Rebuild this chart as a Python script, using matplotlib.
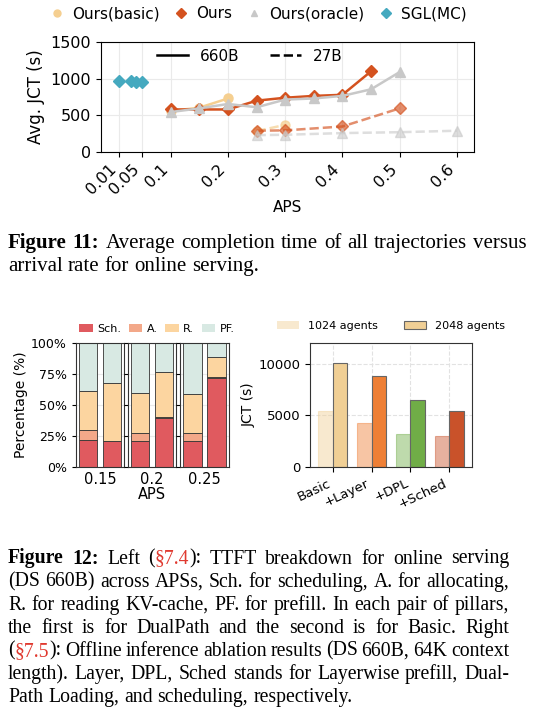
import matplotlib
matplotlib.use("Agg")
import matplotlib.pyplot as plt
from matplotlib.lines import Line2D
from matplotlib.patches import Patch
import numpy as np

W, H = 533, 720

# ---- Figure 11 data (avg JCT vs APS) ----
aps_660_basic = [0.1, 0.15, 0.2]
jct_660_basic = [560, 605, 730]
aps_660_ours = [0.1, 0.15, 0.2, 0.25, 0.3, 0.35, 0.4, 0.45]
jct_660_ours = [580, 580, 580, 700, 740, 765, 780, 1100]
aps_660_oracle = [0.1, 0.15, 0.2, 0.25, 0.3, 0.35, 0.4, 0.45, 0.5]
jct_660_oracle = [545, 595, 655, 610, 715, 730, 765, 855, 1090]

aps_27_basic = [0.25, 0.3]
jct_27_basic = [285, 370]
aps_27_ours = [0.25, 0.3, 0.4, 0.5]
jct_27_ours = [290, 295, 348, 595]
aps_27_oracle = [0.25, 0.3, 0.4, 0.5, 0.6]
jct_27_oracle = [230, 235, 258, 270, 290]

aps_sgl = [0.01, 0.03, 0.04, 0.05]
jct_sgl = [975, 962, 958, 958]

aps_ticks = [0.01, 0.05, 0.1, 0.2, 0.3, 0.4, 0.5, 0.6]

# ---- Figure 12 left data (TTFT breakdown, % ; DualPath, Basic) ----
bd_aps = ["0.15", "0.2", "0.25"]
bd_sch = [[22.0, 20.7], [21.2, 39.8], [21.2, 72.0]]
bd_alloc = [[8.0, 0.5], [6.5, 0.5], [6.2, 0.6]]
bd_read = [[31.0, 46.8], [32.3, 36.3], [31.7, 16.4]]

# ---- Figure 12 right data (ablation) ----
ablation = ["Basic", "+Layer", "+DPL", "+Sched"]
jct_1024 = [5450, 4270, 3190, 2960]
jct_2048 = [10100, 8800, 6530, 5440]

c_basic = "#F5CF90"
c_ours = "#D4521F"
c_oracle = "#C8C8C8"
c_sgl = "#45A9BF"
bd_colors = ["#E05A5F", "#F3A889", "#FCD5A0", "#D8E9E3"]
abl_colors = ["#F0CF95", "#EE7F35", "#70AD47", "#C9522A"]


def box(l, t, r, b):
    return [l / W, 1 - b / H, (r - l) / W, (b - t) / H]


fig = plt.figure(figsize=(W / 100, H / 100), dpi=100)

# ================= Figure 11 =================
ax = fig.add_axes(box(101, 42, 474, 152))
ax.grid(True, color="#EAEAEA", lw=0.8)
ax.set_axisbelow(True)
ms = 6.5
ax.plot(aps_660_basic, jct_660_basic, "-o", color=c_basic, ms=ms, lw=1.8)
ax.plot(aps_660_ours, jct_660_ours, "-D", color=c_ours, ms=ms, lw=1.8)
ax.plot(aps_660_oracle, jct_660_oracle, "-^", color=c_oracle, ms=ms, lw=1.8)
ax.plot(aps_27_basic, jct_27_basic, "--o", color=c_basic, ms=ms, lw=1.8, alpha=0.7)
ax.plot(aps_27_ours, jct_27_ours, "--D", color=c_ours, ms=ms, lw=1.8, alpha=0.65)
ax.plot(aps_27_oracle, jct_27_oracle, "--^", color=c_oracle, ms=ms, lw=1.8, alpha=0.6)
ax.plot(aps_sgl, jct_sgl, "D", color=c_sgl, ms=ms)
ax.set_xlim(-0.022, 0.63)
ax.set_ylim(0, 1500)
ax.set_yticks([0, 500, 1000, 1500])
ax.set_xticks(aps_ticks)
ax.set_xticklabels([str(t) for t in aps_ticks], rotation=45, ha="right")
ax.tick_params(labelsize=11.5)
ax.set_xlabel("APS", fontsize=11, labelpad=2)
ax.set_ylabel("Avg. JCT (s)", fontsize=12)

style_handles = [Line2D([], [], color="black", lw=1.8, ls="-"),
                 Line2D([], [], color="black", lw=1.8, ls="--")]
ax.legend(style_handles, ["660B", "27B"], loc="center", bbox_to_anchor=(0.40, 0.87),
          ncol=2, frameon=False, fontsize=11, handlelength=2.0,
          handletextpad=0.8, columnspacing=2.0)

top_handles = [Line2D([], [], color=c_basic, marker="o", ls="none", ms=5),
               Line2D([], [], color=c_ours, marker="D", ls="none", ms=5),
               Line2D([], [], color=c_oracle, marker="^", ls="none", ms=5),
               Line2D([], [], color=c_sgl, marker="D", ls="none", ms=5)]
fig.legend(top_handles, ["Ours(basic)", "Ours", "Ours(oracle)", "SGL(MC)"],
           loc="center", bbox_to_anchor=(258 / W, 1 - 14 / H), ncol=4,
           frameon=False, fontsize=11, handlelength=1.0, handletextpad=0.5,
           columnspacing=0.9)

# ================= Figure 12 left =================
panels = [box(76, 343, 124, 467), box(128, 343, 176, 467), box(180, 343, 229, 467)]
for i, pos in enumerate(panels):
    pax = fig.add_axes(pos)
    x = np.arange(2)
    sch = np.array(bd_sch[i])
    alloc = np.array(bd_alloc[i])
    read = np.array(bd_read[i])
    pf = 100 - sch - alloc - read
    bottom = np.zeros(2)
    for vals, col in zip([sch, alloc, read, pf], bd_colors):
        pax.bar(x, vals, 0.78, bottom=bottom, color=col, edgecolor="#333333", lw=0.6)
        bottom = bottom + vals
    pax.set_xlim(-0.5, 1.5)
    pax.set_ylim(0, 100)
    pax.set_yticks([0, 25, 50, 75, 100])
    pax.grid(True, axis="y", color="#EAEAEA", lw=0.8)
    pax.set_axisbelow(True)
    pax.set_xticks([0.5])
    pax.set_xticklabels([bd_aps[i]], fontsize=10.5)
    pax.tick_params(axis="x", length=0)
    pax.tick_params(axis="y", labelsize=9, length=3)
    if i == 0:
        pax.set_yticklabels(["0%", "25%", "50%", "75%", "100%"])
        pax.set_ylabel("Percentage (%)", fontsize=10, labelpad=2)
    else:
        pax.set_yticklabels([])
    if i == 1:
        pax.set_xlabel("APS", fontsize=10.5, labelpad=0)
    for s in pax.spines.values():
        s.set_color("#333333")
        s.set_linewidth(0.8)

bd_handles = [Patch(facecolor=c, edgecolor="none") for c in bd_colors]
fig.legend(bd_handles, ["Sch.", "A.", "R.", "PF."], loc="center",
           bbox_to_anchor=(157 / W, 1 - 329 / H), ncol=4, frameon=False,
           fontsize=8, handlelength=1.2, handleheight=0.8, handletextpad=0.4,
           columnspacing=0.7)

# ================= Figure 12 right =================
bx = fig.add_axes(box(310, 343, 472, 467))
xi = np.arange(len(ablation))
bw = 0.37
for j in range(len(ablation)):
    bx.bar(xi[j] - bw / 2, jct_1024[j], bw, color=abl_colors[j], alpha=0.45,
           edgecolor=abl_colors[j], lw=0.8)
    bx.bar(xi[j] + bw / 2, jct_2048[j], bw, color=abl_colors[j],
           edgecolor="#666666", lw=0.8)
bx.set_xlim(-0.58, 3.58)
bx.set_ylim(0, 12000)
bx.set_yticks([0, 5000, 10000])
bx.set_xticks(xi)
bx.set_xticklabels(ablation, rotation=25, ha="right", fontsize=9.5)
bx.tick_params(axis="y", labelsize=9.5)
bx.grid(True, ls="--", color="#E2E2E2", lw=0.8)
bx.set_axisbelow(True)
bx.set_ylabel("JCT (s)", fontsize=10, labelpad=2)
for s in bx.spines.values():
    s.set_color("#333333")
    s.set_linewidth(0.8)

abl_handles = [Patch(facecolor=abl_colors[0], alpha=0.45, edgecolor="none"),
               Patch(facecolor=abl_colors[0], edgecolor="#666666", lw=0.8)]
fig.legend(abl_handles, ["1024 agents", "2048 agents"], loc="center",
           bbox_to_anchor=(391 / W, 1 - 326 / H), ncol=2, frameon=False,
           fontsize=8, handlelength=2.0, handleheight=0.7, handletextpad=0.8,
           columnspacing=2.3)

# ================= captions =================
cap_font = "Liberation Serif"
red = "#E0392F"
renderer = fig.canvas.get_renderer()


def parse_word(word):
    # *bold*  [red]
    pieces = []
    buf = ""
    mode = "n"
    for ch in word:
        if ch == "*":
            if buf:
                pieces.append((buf, mode))
            buf = ""
            mode = "n" if mode == "b" else "b"
        elif ch == "[":
            if buf:
                pieces.append((buf, mode))
            buf = ""
            mode = "r"
        elif ch == "]":
            if buf:
                pieces.append((buf, mode))
            buf = ""
            mode = "n"
        else:
            buf += ch
    if buf:
        pieces.append((buf, mode))
    return pieces


def text_kw(mode, size):
    return dict(family=cap_font, fontsize=size,
                weight="bold" if mode == "b" else "normal",
                color=red if mode == "r" else "black")


def width_of(s, mode, size):
    t = fig.text(0, 0, s, **text_kw(mode, size))
    w = t.get_window_extent(renderer).width
    t.remove()
    return w


def line_width(line, size):
    words = [parse_word(w) for w in line.split(" ")]
    sp = width_of("a a", "n", size) - width_of("aa", "n", size)
    return sum(width_of(s, m, size) for w in words for s, m in w) + sp * (len(words) - 1)


def fit_size(lines, x0, x1, base=12.0):
    ratios = [(x1 - x0) / line_width(l, base) for l in lines[:-1]]
    return base * float(np.median(ratios)) * 0.985


def draw_caption(lines, x0, x1, y0, step, size):
    space_w = width_of("a a", "n", size) - width_of("aa", "n", size)
    for k, line in enumerate(lines):
        words = [parse_word(w) for w in line.split(" ")]
        widths = [sum(width_of(s, m, size) for s, m in w) for w in words]
        last = k == len(lines) - 1
        if last or len(words) < 2:
            gap = space_w
        else:
            gap = (x1 - x0 - sum(widths)) / (len(words) - 1)
        x = x0
        y = 1 - (y0 + k * step) / H
        for w, ww in zip(words, widths):
            xx = x
            for s, m in w:
                fig.text(xx / W, y, s, va="baseline", ha="left", **text_kw(m, size))
                xx += width_of(s, m, size)
            x += ww + gap


cap11 = ["*Figure* *11:* Average completion time of all trajectories versus",
         "arrival rate for online serving."]
cap12 = ["*Figure* *12:* Left ([§7.4]): TTFT breakdown for online serving",
         "(DS 660B) across APSs, Sch. for scheduling, A. for allocating,",
         "R. for reading KV-cache, PF. for prefill. In each pair of pillars,",
         "the first is for DualPath and the second is for Basic. Right",
         "([§7.5]): Offline inference ablation results (DS 660B, 64K context",
         "length). Layer, DPL, Sched stands for Layerwise prefill, Dual-",
         "Path Loading, and scheduling, respectively."]
size12 = fit_size(cap12, 8, 509)
size11 = fit_size(cap11, 8, 527)
draw_caption(cap11, 8, 527, 248, 23.2, size11)
draw_caption(cap12, 8, 509, 563.5, 23.1, size12)

fig.savefig("out.png", dpi=100)
